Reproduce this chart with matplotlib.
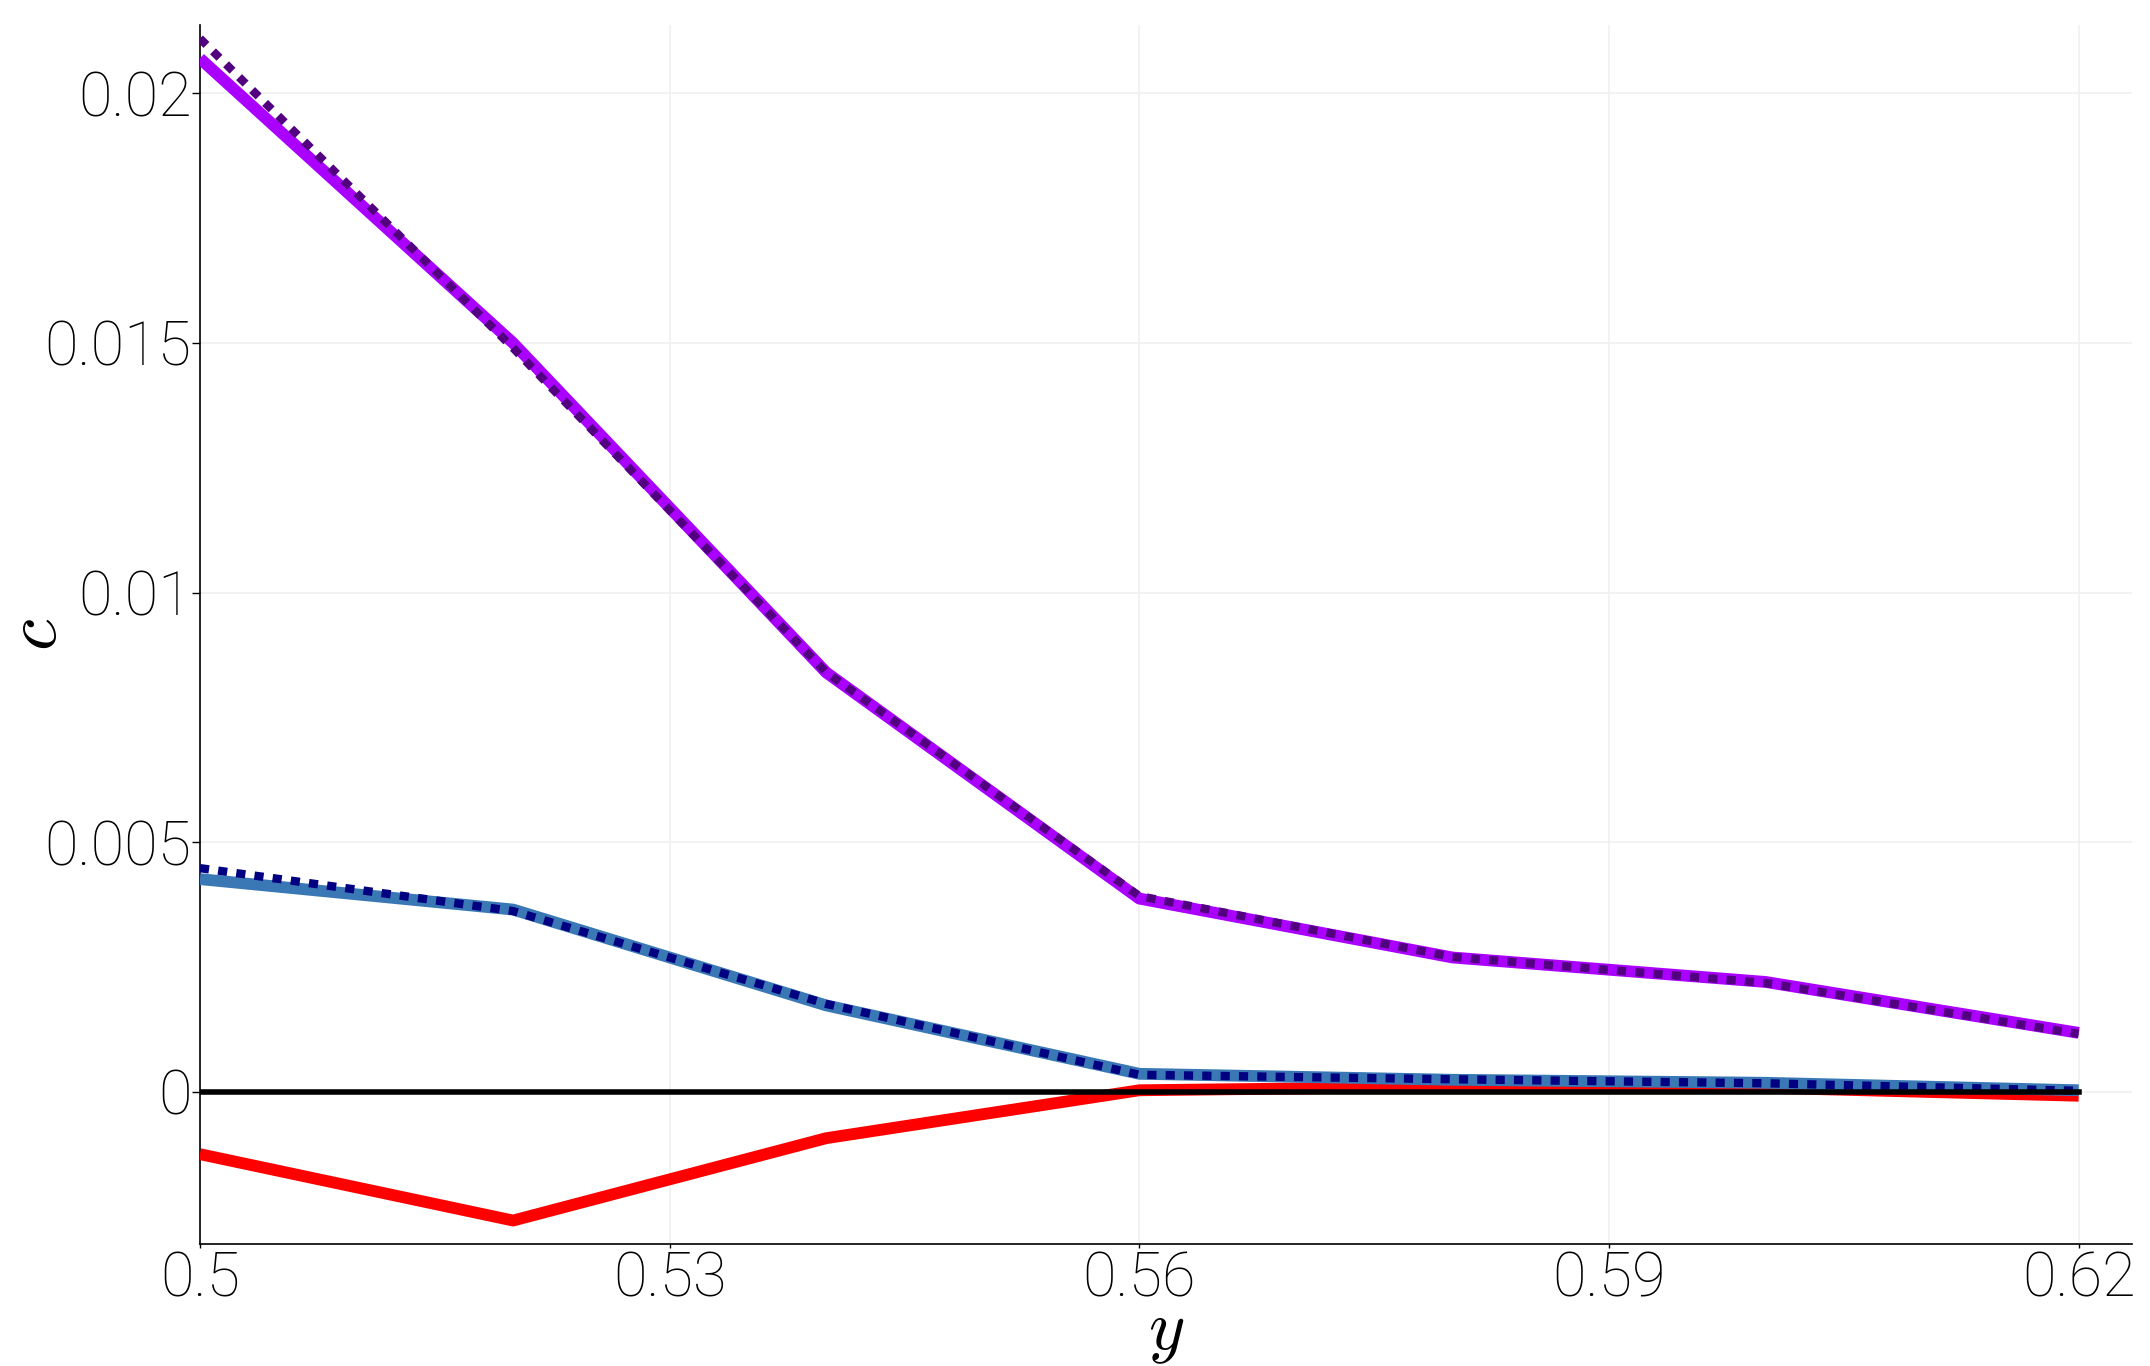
import matplotlib
matplotlib.use("Agg")
import matplotlib.pyplot as plt

y_pos = [0.50, 0.52, 0.54, 0.56, 0.58, 0.60, 0.62]
purple_solid = [0.0207, 0.0150, 0.0084, 0.00387, 0.00269, 0.00220, 0.00118]
purple_dotted = [0.0211, 0.0149, 0.0084, 0.00392, 0.00270, 0.00218, 0.00116]
blue_solid = [0.00426, 0.00365, 0.00173, 0.00036, 0.00024, 0.00018, 0.00003]
navy_dotted = [0.00448, 0.00362, 0.00176, 0.00034, 0.00025, 0.00017, 0.00002]
red_solid = [-0.00125, -0.00258, -0.00093, 0.00003, 0.00010, 0.00008, -0.00008]
zero_line = [0, 0, 0, 0, 0, 0, 0]

xticks = [0.50, 0.53, 0.56, 0.59, 0.62]
xtick_labels = ["0.5", "0.53", "0.56", "0.59", "0.62"]
yticks = [0.0, 0.005, 0.01, 0.015, 0.02]
ytick_labels = ["0", "0.005", "0.01", "0.015", "0.02"]

plt.rcParams['mathtext.fontset'] = 'cm'
fig = plt.figure(figsize=(21.5, 13.66), dpi=100)
ax = fig.add_axes([0.093, 0.0893, 0.8986, 0.8924])

ax.plot(y_pos, red_solid, color='#ff0000', lw=8.5, solid_capstyle='butt', zorder=3)
ax.plot(y_pos, blue_solid, color='#3a78b5', lw=8.5, solid_capstyle='butt', zorder=4)
ax.plot(y_pos, navy_dotted, color='#000080', lw=6, ls=(0, (1.1, 1.1)), zorder=5)
ax.plot(y_pos, purple_solid, color='#aa00ff', lw=8.5, solid_capstyle='butt', zorder=6)
ax.plot(y_pos, purple_dotted, color='#52007f', lw=6, ls=(0, (1.1, 1.1)), zorder=7)
ax.plot(y_pos, zero_line, color='#000000', lw=4, zorder=8)

ax.set_xlim(0.5, 0.6234)
ax.set_ylim(-0.00305, 0.02137)
ax.set_xticks(xticks)
ax.set_xticklabels(xtick_labels)
ax.set_yticks(yticks)
ax.set_yticklabels(ytick_labels)

for lab in ax.get_xticklabels() + ax.get_yticklabels():
    lab.set_fontfamily('Roboto')
    lab.set_fontweight('light')
    lab.set_fontsize(44)
    lab.set_color('black')

ax.tick_params(axis='x', direction='out', length=3, width=1, color='black', pad=2)
ax.tick_params(axis='y', direction='out', length=6, width=1, color='black', pad=0)
ax.grid(True, color='#f0f0f0', lw=1.2)
ax.set_axisbelow(True)
for s in ['top', 'right']:
    ax.spines[s].set_visible(False)
for s in ['left', 'bottom']:
    ax.spines[s].set_linewidth(1.2)
    ax.spines[s].set_color('black')

ax.set_xlabel('$y$', fontsize=50)
ax.xaxis.set_label_coords(0.5, -0.045)
ax.set_ylabel('$c$', fontsize=52)
ax.yaxis.set_label_coords(-0.067, 0.5)

fig.savefig('out.png', dpi=100)
